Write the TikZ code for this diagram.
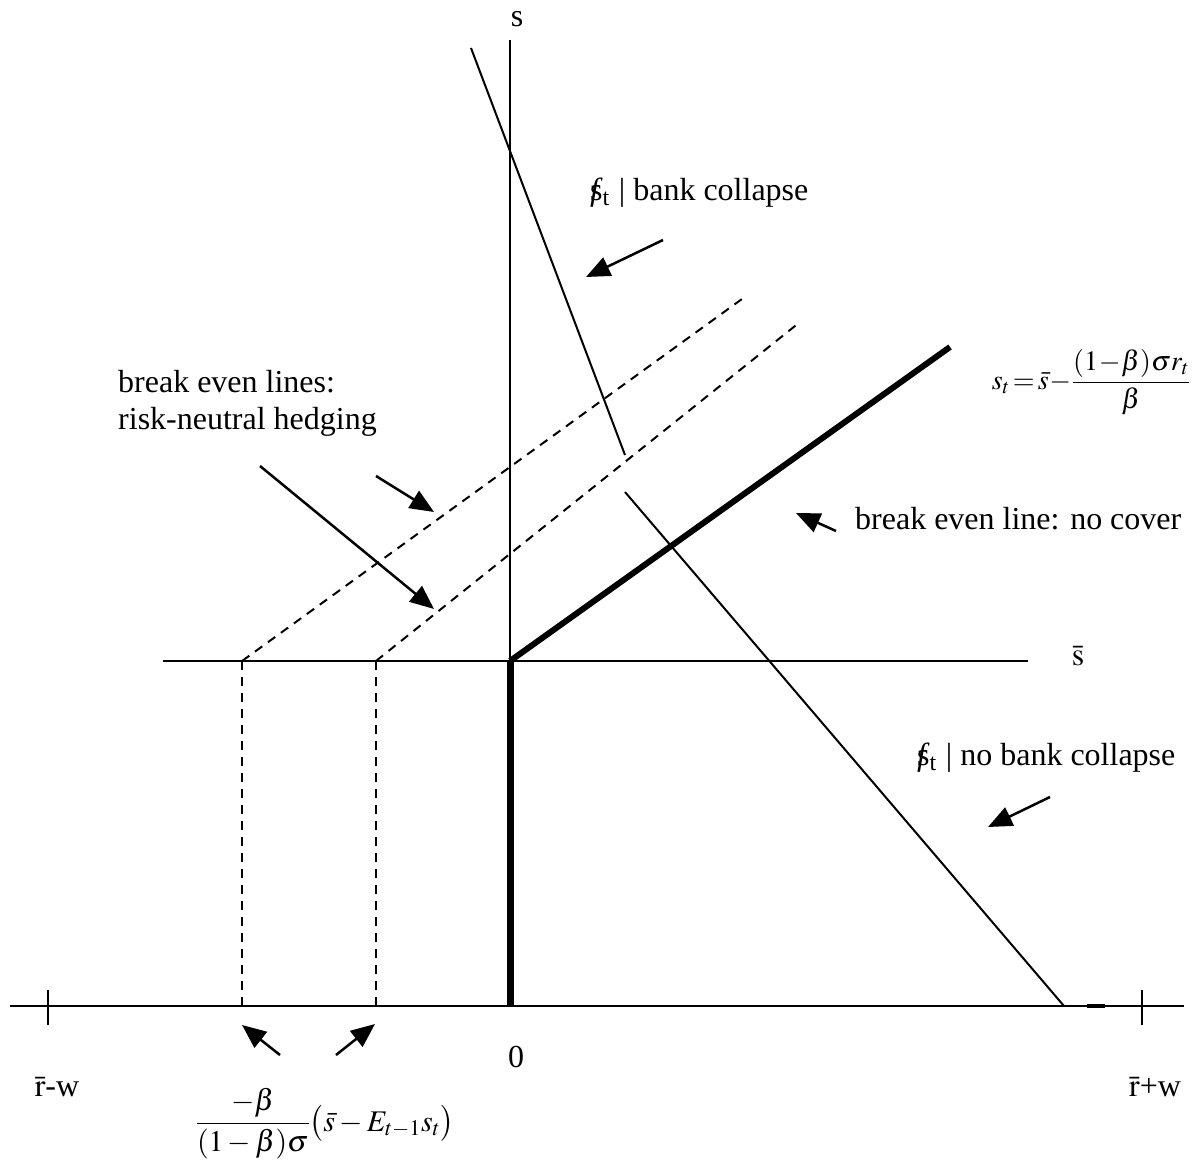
\documentclass[tikz,border=0pt]{standalone}
\usepackage{amsmath}
\usepackage{mathptmx}
\usepackage[no-math]{fontspec}
\setmainfont{Liberation Serif}
\usetikzlibrary{arrows.meta}
\newcommand\sfsym{\makebox[0.39em][c]{s}\hspace{-0.39em}\makebox[0.39em][c]{\textit{f}}\raisebox{-0.35ex}{\fontsize{24}{28}\selectfont t}\hspace{0.3em}|\hspace{0.25em}}
\begin{document}
\begin{tikzpicture}[x=1pt,y=-1pt,
  thinline/.style={line width=2pt},
  thickline/.style={line width=7pt},
  dashline/.style={line width=2pt,dash pattern=on 9pt off 7pt},
  arr/.style={line width=2.5pt,-{Triangle[length=24pt,width=20pt]}},
  lbl/.style={inner sep=0pt,font=\fontsize{32}{40}\selectfont},
  lbll/.style={lbl,anchor=west,align=left}]
\useasboundingbox (0,0) rectangle (1194,1166);
% coordinates
\coordinate (axL) at (10,1006);
\coordinate (axR) at (1184,1006);
\coordinate (tkL1) at (48,990); \coordinate (tkL2) at (48,1025);
\coordinate (tkR1) at (1142,990); \coordinate (tkR2) at (1142,1025);
\coordinate (O) at (510,1006);
\coordinate (S0) at (510,661);
\coordinate (Stop) at (510,40);
\coordinate (sbL) at (163,661);
\coordinate (sbR) at (1028,661);
\coordinate (thE) at (950,347);
\coordinate (d1a) at (242,661); \coordinate (d1b) at (742,299); \coordinate (d1c) at (242,1006);
\coordinate (d2a) at (376,661); \coordinate (d2b) at (800,322); \coordinate (d2c) at (376,1006);
\coordinate (stA) at (471,48); \coordinate (stB) at (625,455);
\coordinate (nbA) at (625,492); \coordinate (nbB) at (1064,1006);
\coordinate (mA) at (1087,1006); \coordinate (mB) at (1105,1006);
% axes and lines
\draw[thinline] (axL) -- (axR);
\draw[thinline] (tkL1) -- (tkL2);
\draw[thinline] (tkR1) -- (tkR2);
\draw[line width=3.5pt] (mA) -- (mB);
\draw[thinline] (S0) -- (Stop);
\draw[thinline] (sbL) -- (sbR);
\draw[thickline] (O) -- (S0);
\draw[line width=6pt] (S0) -- (thE);
\draw[dashline] (d1a) -- (d1b);
\draw[dashline] (d2a) -- (d2b);
\draw[dashline] (d1a) -- (d1c);
\draw[dashline] (d2a) -- (d2c);
\draw[thinline] (stA) -- (stB);
\draw[thinline] (nbA) -- (nbB);
% arrows
\coordinate (a1t) at (663,240); \coordinate (a1h) at (586,277);
\coordinate (a2t) at (836,531); \coordinate (a2h) at (796,513);
\coordinate (a3t) at (1050,797); \coordinate (a3h) at (988,827);
\coordinate (a4t) at (376,476); \coordinate (a4h) at (434,512);
\coordinate (a5t) at (260,466); \coordinate (a5h) at (434,609);
\coordinate (a6t) at (280,1055); \coordinate (a6h) at (242,1025);
\coordinate (a7t) at (336,1055); \coordinate (a7h) at (375,1024);
\draw[arr] (a1t) -- (a1h);
\draw[arr] (a2t) -- (a2h);
\draw[arr] (a3t) -- (a3h);
\draw[arr] (a4t) -- (a4h);
\draw[arr] (a5t) -- (a5h);
\draw[arr] (a6t) -- (a6h);
\draw[arr] (a7t) -- (a7h);
% labels
\node[lbl] (ls) at (517,19) {s};
\node[lbl] (lsbar) at (1078,656) {$\bar{\mathrm{s}}$};
\node[lbl] (lzero) at (516,1057) {0};
\node[lbl] (lrw1) at (57,1087) {$\bar{\mathrm{r}}$-w};
\node[lbl] (lrw2) at (1155,1087) {$\bar{\mathrm{r}}$+w};
\node[lbll] (lbc) at (590,193) {\sfsym bank collapse};
\node[lbll] (lnbc) at (917,758) {\sfsym no bank collapse};
\node[lbll] (lnc) at (855,519) {break even line: no cover};
\node[lbll] (lbe) at (118,403) {break even lines:\\[-3pt]risk-neutral hedging};
\node[inner sep=0pt,font=\fontsize{28}{32}\selectfont] (lf1) at (1091,382)
  {$s_t\!=\!\bar{s}\!-\!\dfrac{(1\!-\!\beta)\sigma r_t}{\beta}$};
\node[inner sep=0pt,font=\fontsize{30}{36}\selectfont] (lf2) at (325,1124)
  {$\dfrac{-\beta}{(1-\beta)\sigma}\bigl(\bar{s}-E_{t-1}s_t\bigr)$};
\end{tikzpicture}
\end{document}
